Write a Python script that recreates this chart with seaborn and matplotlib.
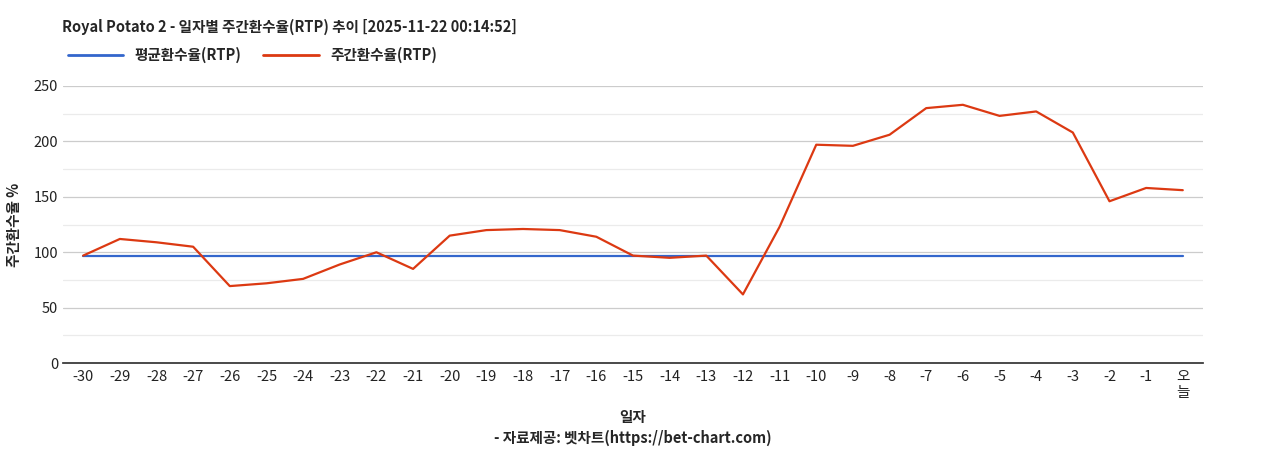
import matplotlib
matplotlib.use("Agg")
import matplotlib.pyplot as plt
import seaborn as sns
import pandas as pd
from matplotlib.lines import Line2D

days = [str(d) for d in range(-30, 0)] + ["오\n늘"]
weekly_rtp = [97, 112, 109, 105, 69.5, 72, 76, 89, 100, 85,
              115, 120, 121, 120, 114, 97, 95, 97, 62, 123,
              197, 196, 206, 230, 233, 223, 227, 208, 146, 158, 156]
avg_rtp = [96.5] * len(days)

sns.set_theme(style="white")
plt.rcParams['font.family'] = ['Noto Sans CJK KR', 'DejaVu Sans']

df = pd.DataFrame({"day": days, "weekly": weekly_rtp, "avg": avg_rtp})

fig = plt.figure(figsize=(12.68, 4.5), dpi=100)
ax = fig.add_axes([0.0497, 0.193, 0.899, 0.616])

for y in range(25, 251, 25):
    ax.axhline(y, color="#cccccc" if y % 50 == 0 else "#ebebeb", lw=0.9, zorder=0)

sns.lineplot(data=df, x="day", y="avg", ax=ax, color="#3366cc", lw=1.6, sort=False)
sns.lineplot(data=df, x="day", y="weekly", ax=ax, color="#dc3912", lw=1.6, sort=False)

ax.set_ylim(0, 250)
ax.set_xlim(-0.55, len(days) - 0.45)
ax.set_yticks(range(0, 251, 50))
for s in ["top", "right", "left"]:
    ax.spines[s].set_visible(False)
ax.spines["bottom"].set_color("#333333")
ax.tick_params(axis="both", length=0, labelsize=10.5, colors="#222222")
ax.tick_params(axis="x", pad=5)
ax.set_xlabel("일자\n- 자료제공: 벳차트(https://bet-chart.com)", fontsize=10.5,
              fontweight="bold", labelpad=6, linespacing=1.4)
ax.set_ylabel("주간환수율 %", fontsize=10.5, fontweight="bold", labelpad=8)

fig.text(0.049, 0.93, "Royal Potato 2 - 일자별 주간환수율(RTP) 추이 [2025-11-22 00:14:52]",
         fontsize=10.5, fontweight="bold")
handles = [Line2D([], [], color="#3366cc", lw=2), Line2D([], [], color="#dc3912", lw=2)]
fig.legend(handles, ["평균환수율(RTP)", "주간환수율(RTP)"], loc="upper left",
           bbox_to_anchor=(0.043, 0.925), ncol=2, frameon=False,
           prop={"weight": "bold", "size": 10.5}, handlelength=3.8, columnspacing=1.5)

fig.savefig("out.png", dpi=100)
